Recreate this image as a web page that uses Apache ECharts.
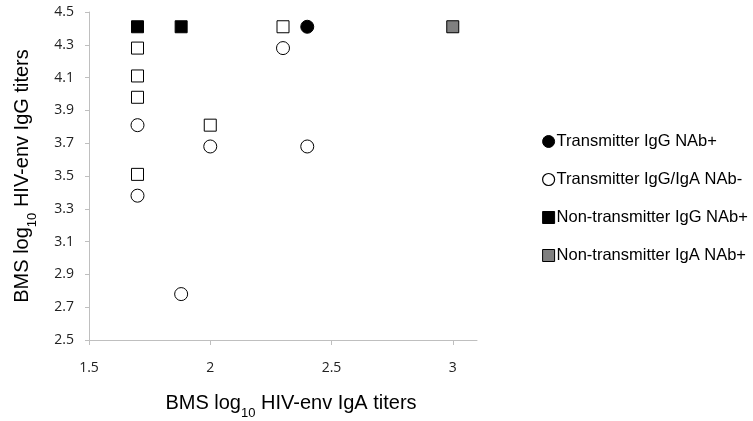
<!DOCTYPE html>
<html>
<head>
<meta charset="utf-8">
<script src="https://cdn.jsdelivr.net/npm/echarts@6/dist/echarts.min.js"></script>
<style>
  html, body { margin: 0; padding: 0; background: #fff; }
  #chart { width: 753px; height: 421px; }
</style>
</head>
<body>
<div id="chart"></div>
<script>
// data: [IgA titer, IgG titer]
var seriesNames = ['Transmitter IgG NAb+', 'Transmitter IgG/IgA NAb-', 'Non-transmitter IgG NAb+', 'Non-transmitter IgA NAb+'];
var transIgGPos = [[2.40, 4.41]];
var transNeg = [[2.30, 4.28], [1.70, 3.81], [2.00, 3.68], [2.40, 3.68], [1.70, 3.38], [1.88, 2.78]];
var nonTransIgGPos = [[1.70, 4.41], [1.88, 4.41]];
var nonTransIgAPos = [[3.00, 4.41]];
// open squares have no legend entry in the original
var openSquares = [[2.30, 4.41], [1.70, 4.28], [1.70, 4.11], [1.70, 3.98], [2.00, 3.81], [1.70, 3.51]];
var xTicks = [1.5, 2, 2.5, 3];

var chart = echarts.init(document.getElementById('chart'));
var fontAxis = 'Liberation Sans, Arial, sans-serif';
var fontTick = 'Open Sans, Noto Sans, sans-serif';

function mk(name, data, symbol, fill) {
    return {
        name: name,
        type: 'scatter',
        data: data,
        symbol: symbol,
        symbolSize: symbol == 'circle' ? 13 : 12,
        itemStyle: { color: fill, borderColor: '#000', borderWidth: 1, opacity: 1 },
        emphasis: { disabled: true }
    };
}

var titleRich = {
    t: { fontFamily: fontAxis, fontSize: 20, color: '#000' },
    s: { fontFamily: fontAxis, fontSize: 13, color: '#000', verticalAlign: 'bottom', padding: [0, 0, -7, 0] }
};

var option = {
    animation: false,
    grid: { left: 89, right: 276, top: 12, bottom: 81, outerBoundsMode: 'none', containLabel: false },
    legend: {
        orient: 'vertical',
        left: 537,
        top: 128,
        itemWidth: 12,
        itemHeight: 12,
        itemGap: 21,
        textStyle: { fontFamily: fontAxis, fontSize: 16.5, color: '#000', padding: [0, 0, 0, -3] },
        data: [
            { name: seriesNames[0], icon: 'circle', itemStyle: { color: '#000', borderColor: '#000', borderWidth: 1 } },
            { name: seriesNames[1], icon: 'circle', itemStyle: { color: '#fff', borderColor: '#000', borderWidth: 1.2 } },
            { name: seriesNames[2], icon: 'rect', itemStyle: { color: '#000', borderColor: '#000', borderWidth: 1 } },
            { name: seriesNames[3], icon: 'rect', itemStyle: { color: '#808080', borderColor: '#000', borderWidth: 1 } }
        ],
        selectedMode: false
    },
    xAxis: {
        type: 'value',
        min: 1.5,
        max: 3.1,
        interval: 0.5,
        splitLine: { show: false },
        axisLine: { show: true, lineStyle: { color: '#bfbfbf', width: 1 } },
        axisTick: { show: true, customValues: xTicks, length: 5, lineStyle: { color: '#bfbfbf' } },
        axisLabel: { customValues: xTicks, margin: 21, fontFamily: fontTick, fontSize: 14, color: '#222' },
        name: '{t|BMS log}{s|10}{t| HIV-env IgA titers}',
        nameLocation: 'middle',
        nameGap: 53,
        nameTextStyle: { rich: titleRich, padding: [0, 0, 0, 16] }
    },
    yAxis: {
        type: 'value',
        min: 2.5,
        max: 4.5,
        interval: 0.2,
        splitLine: { show: false },
        axisLine: { show: true, lineStyle: { color: '#bfbfbf', width: 1 } },
        axisTick: { show: true, length: 4, lineStyle: { color: '#bfbfbf' } },
        axisLabel: { margin: 15, fontFamily: fontTick, fontSize: 14, color: '#222',
            formatter: function (v) { return v.toFixed(1); } },
        name: '{t|BMS log}{s|10}{t| HIV-env IgG titers}',
        nameLocation: 'middle',
        nameGap: 57,
        nameTextStyle: { rich: titleRich }
    },
    series: [
        mk(seriesNames[0], transIgGPos, 'circle', '#000'),
        mk(seriesNames[1], transNeg, 'circle', '#fff'),
        mk(seriesNames[2], nonTransIgGPos, 'rect', '#000'),
        mk(seriesNames[3], nonTransIgAPos, 'rect', '#808080'),
        mk('', openSquares, 'rect', '#fff')
    ]
};
chart.setOption(option);
</script>
</body>
</html>
